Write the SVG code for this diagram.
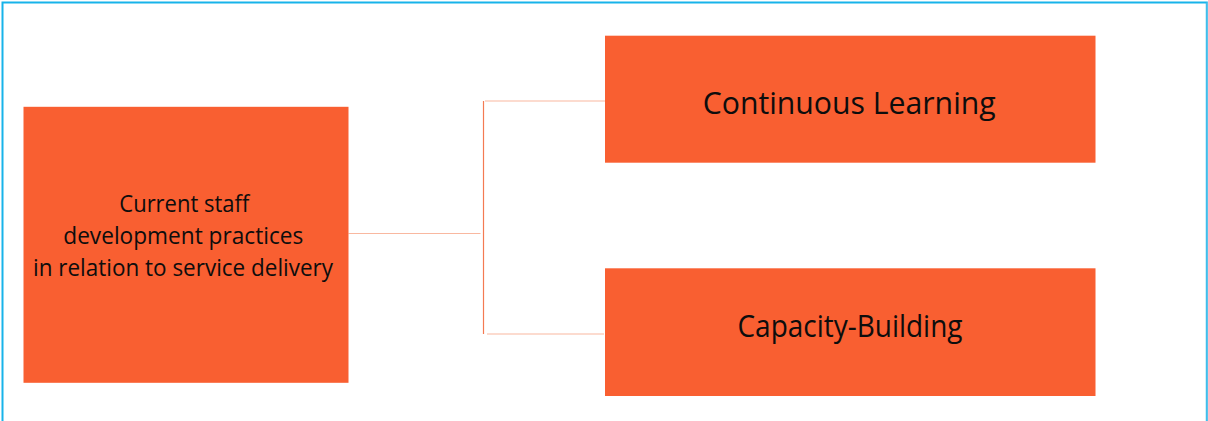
<svg xmlns="http://www.w3.org/2000/svg" width="1208" height="421" viewBox="0 0 1208 421">
  <style>
    .box { fill: #f95f31; }
    .label { font-family: "Open Sans", "Liberation Sans", sans-serif; fill: #0d0d0d; text-anchor: middle; }
    .big { font-size: 31px; }
    .small { font-size: 23px; }
    .link { stroke: #f9b8a0; stroke-width: 1.2; fill: none; }
    .trunk { stroke: #f47a52; stroke-width: 1.2; fill: none; }
  </style>
  <rect width="1208" height="421" fill="#ffffff"/>
  <!-- frame -->
  <path d="M2.5,421 V2.5 H1206.8 V421" fill="none" stroke="#17b3ea" stroke-width="2"/>
  <path d="M1207,2.5 V421" stroke="#6fc6ea" stroke-width="1" fill="none"/>

  <g id="connectors">
    <path class="link" d="M348.5,233.5 H480.5"/>
    <path class="trunk" d="M483.5,101 V334"/>
    <path class="link" d="M485,101 H605"/>
    <path class="link" d="M487,334 H604"/>
  </g>

  <g id="node-current-practices">
    <rect class="box" x="23.5" y="106.8" width="325" height="276"/>
    <text class="label small" x="184.3" y="211.7" textLength="130" lengthAdjust="spacingAndGlyphs">Current staff</text>
    <text class="label small" x="183.3" y="244.3" textLength="240" lengthAdjust="spacingAndGlyphs">development practices</text>
    <text class="label small" x="183" y="275.7" textLength="300" lengthAdjust="spacingAndGlyphs">in relation to service delivery</text>
  </g>

  <g id="node-continuous-learning">
    <rect class="box" x="605" y="35.7" width="490.5" height="127"/>
    <text class="label big" x="849.2" y="114.3" textLength="293" lengthAdjust="spacingAndGlyphs">Continuous Learning</text>
  </g>

  <g id="node-capacity-building">
    <rect class="box" x="605" y="268.3" width="490.5" height="127.7"/>
    <text class="label big" x="850" y="336.7" textLength="225" lengthAdjust="spacingAndGlyphs">Capacity-Building</text>
  </g>
</svg>
